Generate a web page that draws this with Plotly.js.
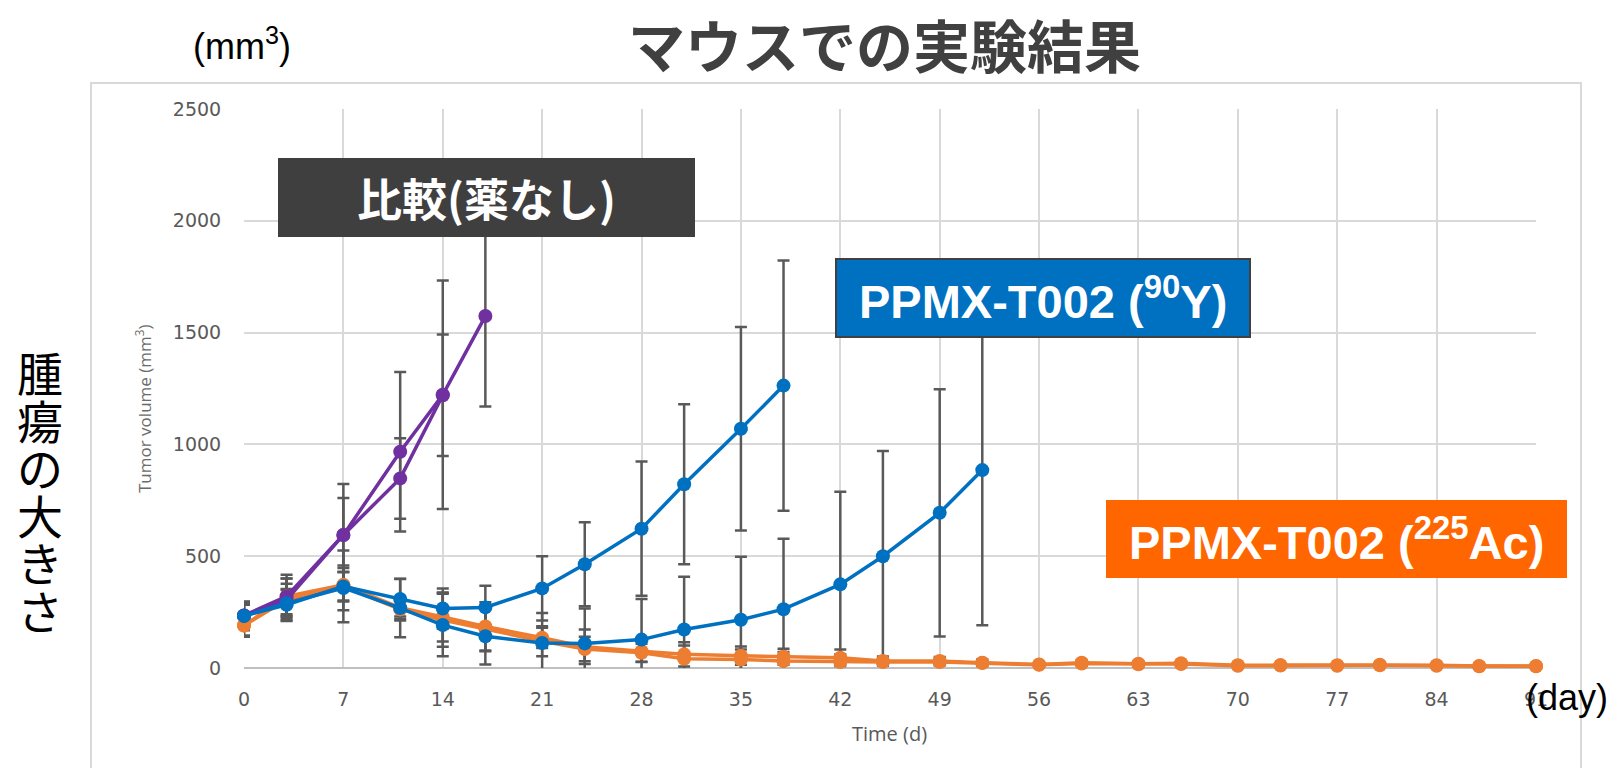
<!DOCTYPE html>
<html>
<head>
<meta charset="utf-8">
<script src="https://cdn.plot.ly/plotly-3.0.1.min.js"></script>
<style>
  html, body { margin: 0; padding: 0; background: #ffffff; }
  #chart { width: 1613px; height: 768px; }
</style>
</head>
<body>
<div id="chart"></div>
<script>
// ---------- data ----------
const days = [0, 3, 7, 11, 14, 17, 21, 24, 28, 31, 35, 38, 42, 45, 49, 52, 56, 59, 63, 66, 70, 73, 77, 80, 84, 87, 91];

const controlA    = [235, 320, 595, 967, 1222, 1574];
const controlAErr = [60, 97, 228, 357, 511, 405];
const controlB    = [235, 305, 595, 848, 1220];
const controlBErr = [55, 95, 165, 180, 272];

const y90A    = [233, 283, 365, 309, 266, 271, 356, 464, 623, 822, 1070, 1263];
const y90AErr = [64, 70, 160, 90, 90, 97, 144, 188, 300, 358, 455, 560];
const y90B    = [233, 290, 358, 268, 192, 142, 112, 110, 127, 172, 216, 263, 374, 500, 694, 885];
const y90BErr = [50, 60, 100, 130, 140, 126, 134, 156, 182, 236, 281, 315, 414, 470, 553, 694];

const ac225A    = [190, 320, 372, 270, 228, 186, 135, 95, 75, 61, 55, 50, 46, 31, 31, 24, 16, 24, 19, 21, 12, 13, 12, 15, 12, 9, 9];
const ac225AErr = [50, 80, 75, 40, 110, 108, 45, 77, 48, 54, 41, 36, 37, 20, 18, 15, 10, 12, 10, 10, 6, 6, 6, 6, 5, 4, 4];
const ac225B    = [190, 305, 365, 262, 215, 175, 120, 85, 68, 41, 38, 31, 27, 27, 27, 22, 14, 20, 17, 18, 10, 11, 10, 12, 10, 8, 8];
const ac225BErr = [45, 72, 63, 50, 120, 100, 67, 55, 40, 60, 45, 40, 35, 15, 15, 12, 8, 10, 8, 8, 5, 5, 5, 5, 4, 3, 3];

const xTickVals = [0, 7, 14, 21, 28, 35, 42, 49, 56, 63, 70, 77, 84, 91];
const yTickVals = [0, 500, 1000, 1500, 2000, 2500];

const chartTitle   = 'マウスでの実験結果';
const unitLabel    = '(mm<sup>3</sup>)';
const sideLabel    = ['腫', '瘍', 'の', '大', 'き', 'さ'];
const yAxisLabel   = 'Tumor volume (mm<sup>3</sup>)';
const xAxisLabel   = 'Time (d)';
const dayLabel     = '(day)';
const labelControl = '比較(薬なし)';
const labelY90     = 'PPMX-T002 (<sup>90</sup>Y)';
const labelAc225   = 'PPMX-T002 (<sup>225</sup>Ac)';

// ---------- styling ----------
const PURPLE = '#7030A0', BLUE = '#0070C0', ORANGE = '#ED7D31';
const ERRC = '#595959';

// pixel -> paper helpers (plot area: x 244..1536, y 109..668)
const L = 244, R = 1536, T = 109, B = 668;
const px = p => (p - L) / (R - L);
const py = p => (B - p) / (B - T);

const series = [
  {y: ac225A, e: ac225AErr, c: ORANGE},
  {y: ac225B, e: ac225BErr, c: ORANGE},
  {y: controlA, e: controlAErr, c: PURPLE},
  {y: controlB, e: controlBErr, c: PURPLE},
  {y: y90A, e: y90AErr, c: BLUE},
  {y: y90B, e: y90BErr, c: BLUE}
];

const traces = [];
// error bars (clipped to the plot area)
series.forEach(s => {
  traces.push({
    x: days.slice(0, s.y.length), y: s.y, type: 'scatter', mode: 'markers',
    marker: {size: 1, opacity: 0, color: s.c},
    error_y: {type: 'data', array: s.e, visible: true, color: ERRC, thickness: 2.5, width: 6},
    cliponaxis: true, showlegend: false, hoverinfo: 'skip'
  });
});
// lines + markers (markers not clipped)
series.forEach(s => {
  traces.push({
    x: days.slice(0, s.y.length), y: s.y, type: 'scatter', mode: 'lines+markers',
    line: {color: s.c, width: 3.5},
    marker: {size: 14, color: s.c},
    cliponaxis: false, showlegend: false
  });
});

const annotations = [
  {text: '<b>' + chartTitle + '</b>', x: px(884), y: py(43),
   font: {family: 'Noto Sans CJK JP', size: 57, color: '#404040'}},
  {text: unitLabel, x: px(242), y: py(44),
   font: {family: 'Liberation Sans, Arial, sans-serif', size: 36, color: '#000000'}},
  {text: yAxisLabel, x: px(143), y: py(409), textangle: -90,
   font: {family: 'Open Sans, sans-serif', size: 17, color: '#6b6b6b'}},
  {text: xAxisLabel, x: px(889), y: py(733),
   font: {family: 'Open Sans, sans-serif', size: 20, color: '#595959'}},
  {text: dayLabel, x: px(1567), y: py(697),
   font: {family: 'Liberation Sans, Arial, sans-serif', size: 36, color: '#000000'}},
  {text: '<b>' + labelControl + '</b>', x: px(486), y: py(197),
   font: {family: 'Noto Sans CJK JP', size: 45, color: '#ffffff'}},
  {text: '<b>' + labelY90 + '</b>', x: px(1043), y: py(298),
   font: {family: 'Liberation Sans, Arial, sans-serif', size: 47, color: '#ffffff'}},
  {text: '<b>' + labelAc225 + '</b>', x: px(1336), y: py(539),
   font: {family: 'Liberation Sans, Arial, sans-serif', size: 47, color: '#ffffff'}}
];
sideLabel.forEach((ch, i) => {
  annotations.push({text: ch, x: px(40), y: py(371 + i * 47.6),
    font: {family: 'Noto Sans CJK JP', size: 46, color: '#000000'}});
});
annotations.forEach(a => {
  a.xref = 'paper'; a.yref = 'paper'; a.showarrow = false;
  a.xanchor = 'center'; a.yanchor = 'middle';
});

const shapes = [
  {type: 'rect', xref: 'paper', yref: 'paper', layer: 'below',
   x0: px(91), x1: px(1581), y0: py(820), y1: py(83),
   line: {color: '#d9d9d9', width: 2}, fillcolor: 'rgba(0,0,0,0)'},
  {type: 'rect', xref: 'paper', yref: 'paper', layer: 'above',
   x0: px(278), x1: px(695), y0: py(237), y1: py(158),
   line: {width: 0}, fillcolor: '#3f3f3f'},
  {type: 'rect', xref: 'paper', yref: 'paper', layer: 'above',
   x0: px(836), x1: px(1250), y0: py(337), y1: py(259),
   line: {color: '#404040', width: 2}, fillcolor: BLUE},
  {type: 'rect', xref: 'paper', yref: 'paper', layer: 'above',
   x0: px(1106), x1: px(1567), y0: py(578), y1: py(500),
   line: {width: 0}, fillcolor: '#FF6600'}
];

const tickFont = {family: 'DejaVu Sans, sans-serif', size: 19, color: '#595959'};

const layout = {
  width: 1613, height: 768,
  margin: {l: L, r: 1613 - R, t: T, b: 768 - B, pad: 0},
  paper_bgcolor: '#ffffff', plot_bgcolor: '#ffffff',
  showlegend: false,
  xaxis: {
    range: [0, 91], tickmode: 'array', tickvals: xTickVals, ticktext: xTickVals.map(String),
    showgrid: true, gridcolor: '#d9d9d9', gridwidth: 2, zeroline: false, showline: false,
    ticks: 'outside', ticklen: 14, tickcolor: 'rgba(0,0,0,0)', tickfont: tickFont, fixedrange: true
  },
  yaxis: {
    range: [0, 2500], tickmode: 'array', tickvals: yTickVals, ticktext: yTickVals.map(String),
    showgrid: true, gridcolor: '#d9d9d9', gridwidth: 2,
    zeroline: true, zerolinecolor: '#bfbfbf', zerolinewidth: 2, showline: false,
    ticks: 'outside', ticklen: 18, tickcolor: 'rgba(0,0,0,0)', tickfont: tickFont, fixedrange: true
  },
  annotations: annotations,
  shapes: shapes
};

Plotly.newPlot('chart', traces, layout, {displayModeBar: false, staticPlot: true});
</script>
</body>
</html>
